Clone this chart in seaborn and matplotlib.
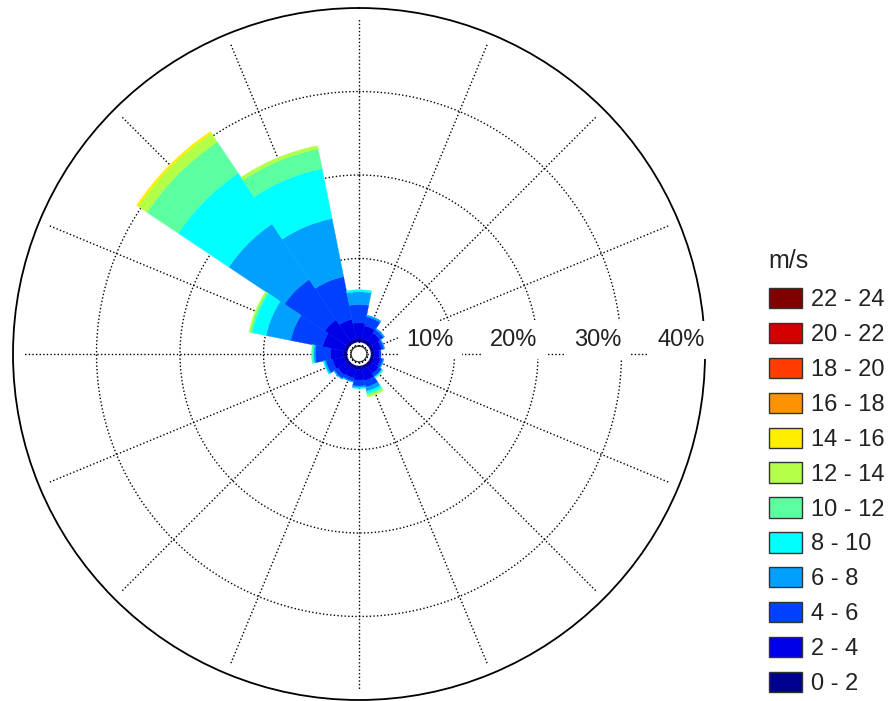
"""Wind rose: frequency (%) by direction, stacked by wind speed class."""
import numpy as np
import matplotlib.pyplot as plt
from matplotlib.patches import Patch
import seaborn as sns

# ------------------------------------------------------------------
# Data (percent of time, per direction sector and speed class)
# ------------------------------------------------------------------
directions = ["N", "NNE", "NE", "ENE", "E", "ESE", "SE", "SSE",
              "S", "SSW", "SW", "WSW", "W", "WNW", "NW", "NNW"]
bearings = [0, 22.5, 45, 67.5, 90, 112.5, 135, 157.5,
            180, 202.5, 225, 247.5, 270, 292.5, 315, 337.5]

speed_bins = ["0 - 2", "2 - 4", "4 - 6", "6 - 8", "8 - 10", "10 - 12",
              "12 - 14", "14 - 16", "16 - 18", "18 - 20", "20 - 22", "22 - 24"]
bin_colors = ["#000090", "#0000E8", "#0040FF", "#00A0FF", "#00FFFF", "#5CFFA0",
              "#B4FF48", "#FFEE00", "#FF9200", "#FF3C00", "#D40000", "#800000"]

freq_0_2 = [0.4] * 16
freq_2_4 = [1.9, 1.6, 1.2, 0.9, 0.6, 0.8, 1.0, 1.4, 1.3, 1.1, 1.2, 1.4, 1.6, 2.6, 3.1, 2.4]
freq_4_6 = [2.2, 1.1, 0.5, 0.3, 0.2, 0.3, 0.4, 0.8, 0.7, 0.4, 0.5, 0.8, 1.8, 3.9, 5.8, 5.2]
freq_6_8 = [1.5, 0.2, 0.15, 0.1, 0.0, 0.1, 0.1, 0.5, 0.2, 0.1, 0.1, 0.2, 0.2, 3.0, 8.0, 7.1]
freq_8_10 = [0.25, 0, 0, 0, 0, 0, 0.1, 0.3, 0.1, 0, 0, 0.1, 0.15, 1.7, 7.3, 6.1]
freq_10_12 = [0, 0, 0, 0, 0, 0, 0.05, 0.2, 0, 0, 0, 0, 0.1, 0.25, 4.5, 2.4]
freq_12_14 = [0, 0, 0, 0, 0, 0, 0, 0.2, 0, 0, 0, 0, 0, 0.15, 1.25, 0.4]
freq_14_16 = [0, 0, 0, 0, 0, 0, 0, 0, 0, 0, 0, 0, 0, 0, 0.25, 0]
freq_16_18 = [0] * 16
freq_18_20 = [0] * 16
freq_20_22 = [0] * 16
freq_22_24 = [0] * 16

ring_values = [10, 20, 30]
ring_labels = ["10%", "20%", "30%", "40%"]
r_max = 40

# ------------------------------------------------------------------
# Plot
# ------------------------------------------------------------------
sns.set_style("white")
plt.rcParams["font.family"] = ["Liberation Sans", "DejaVu Sans"]

fig = plt.figure(figsize=(8.89, 7.01), dpi=100)
ax = fig.add_axes([13 / 889, 1 / 701, 692 / 889, 692 / 701], projection="polar")
ax.set_theta_zero_location("N")
ax.set_theta_direction(-1)
ax.set_ylim(-0.5, r_max)
ax.set_rorigin(-1.44)
ax.set_xticks([])
ax.set_yticks([])
ax.grid(False)
ax.spines["polar"].set_linewidth(1.3)
ax.spines["polar"].set_color("black")

theta = np.deg2rad(bearings)
width = 2 * np.pi / len(bearings)
dot = (0, (1, 1.6))

# spokes and dotted rings (under the petals)
for t in theta:
    ax.plot([t, t], [-0.45, 38.7], color="black", lw=1.0, ls=dot, zorder=1)
circle = np.linspace(0, 2 * np.pi, 361)
for r in ring_values + [-0.45]:
    ax.plot(circle, np.full_like(circle, r), color="black", lw=1.0, ls=dot, zorder=1)

freqs = [freq_0_2, freq_2_4, freq_4_6, freq_6_8, freq_8_10, freq_10_12,
         freq_12_14, freq_14_16, freq_16_18, freq_18_20, freq_20_22, freq_22_24]
bottom = np.zeros(len(bearings))
for f, c in zip(freqs, bin_colors):
    f = np.asarray(f, dtype=float)
    m = f > 0
    if m.any():
        ax.bar(theta[m], f[m], width=width, bottom=bottom[m], color=c, edgecolor=c,
               linewidth=0.3, zorder=2)
    bottom += f

# ring labels along the east axis
for r, lab in zip(ring_values + [r_max], ring_labels):
    ax.annotate(lab, xy=(np.pi / 2, r - 2.9), xytext=(0, 10), textcoords="offset points",
                ha="center", va="center", fontsize=17, color="#222222", zorder=5,
                annotation_clip=False,
                bbox=dict(boxstyle="square,pad=0.35", fc="white", ec="none"))

handles = [Patch(facecolor=c, edgecolor="#333333", linewidth=1.0) for c in bin_colors]
leg = fig.legend(handles[::-1], speed_bins[::-1], title="m/s", loc="upper left",
                 bbox_to_anchor=(757 / 889, 1 - 237 / 701), frameon=False,
                 fontsize=17, title_fontsize=18, handlelength=1.4, handleheight=0.95,
                 handletextpad=0.4, labelspacing=0.49, borderpad=0, alignment="left")
leg._legend_box.sep = 11
for t in leg.get_texts():
    t.set_color("#222222")
leg.get_title().set_color("#222222")

fig.savefig("out.png", dpi=100, facecolor="white")
